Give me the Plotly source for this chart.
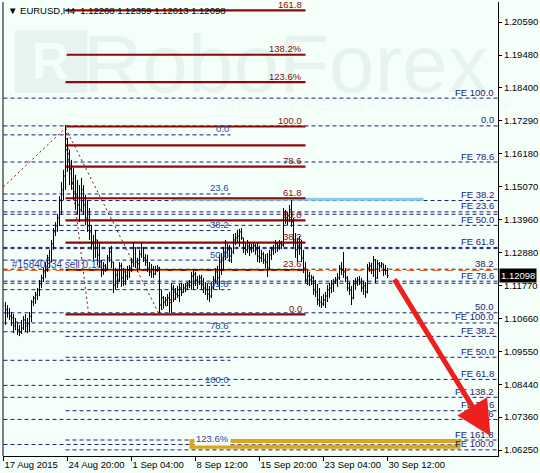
import plotly.graph_objects as go

# ---------------- data (EURUSD H4) ----------------
high = [1.1121, 1.1111, 1.1101, 1.1088, 1.1081, 1.1068, 1.1054, 1.1044, 1.1061, 1.1074,
        1.1081, 1.1068, 1.1088, 1.1128, 1.1141, 1.1155, 1.1168, 1.1195, 1.1212, 1.1235,
        1.1255, 1.1279, 1.1296, 1.1329, 1.1369, 1.1389, 1.1416, 1.1476, 1.1523, 1.1564,
        1.1714, 1.1671, 1.1631, 1.1597, 1.1570, 1.1547, 1.1530, 1.1513, 1.1537, 1.1513,
        1.1480, 1.1463, 1.1436, 1.1379, 1.1346, 1.1363, 1.1329, 1.1322, 1.1262, 1.1255,
        1.1249, 1.1279, 1.1302, 1.1309, 1.1255, 1.1235, 1.1229, 1.1255, 1.1252, 1.1235,
        1.1229, 1.1242, 1.1245, 1.1269, 1.1322, 1.1305, 1.1269, 1.1296, 1.1319, 1.1305,
        1.1282, 1.1279, 1.1255, 1.1249, 1.1242, 1.1242, 1.1245, 1.1239, 1.1162, 1.1141,
        1.1138, 1.1148, 1.1155, 1.1185, 1.1178, 1.1168, 1.1175, 1.1182, 1.1185, 1.1182,
        1.1185, 1.1188, 1.1195, 1.1222, 1.1229, 1.1222, 1.1208, 1.1212, 1.1212, 1.1202,
        1.1188, 1.1182, 1.1175, 1.1188, 1.1208, 1.1235, 1.1242, 1.1279, 1.1285, 1.1306,
        1.1329, 1.1316, 1.1312, 1.1302, 1.1349, 1.1352, 1.1363, 1.1366, 1.1369, 1.1336,
        1.1319, 1.1329, 1.1322, 1.1316, 1.1319, 1.1316, 1.1319, 1.1309, 1.1296, 1.1289,
        1.1282, 1.1285, 1.1296, 1.1306, 1.1312, 1.1329, 1.1322, 1.1329, 1.1326, 1.1436,
        1.1430, 1.1423, 1.1446, 1.1463, 1.1403, 1.1352, 1.1336, 1.1342, 1.1329, 1.1296,
        1.1255, 1.1229, 1.1222, 1.1212, 1.1208, 1.1195, 1.1182, 1.1168, 1.1141, 1.1148,
        1.1155, 1.1178, 1.1185, 1.1195, 1.1198, 1.1205, 1.1218, 1.1245, 1.1255, 1.1289,
        1.1235, 1.1208, 1.1188, 1.1175, 1.1195, 1.1202, 1.1205, 1.1208, 1.1202, 1.1192,
        1.1188, 1.1249, 1.1255, 1.1252, 1.1275, 1.1265, 1.1262, 1.1255, 1.1255, 1.1249,
        1.1245, 1.12359]
low = [1.1044, 1.1068, 1.1061, 1.1041, 1.1017, 1.1027, 1.1011, 1.1007, 1.1014, 1.1027,
       1.1021, 1.1017, 1.1021, 1.1054, 1.1108, 1.1115, 1.1128, 1.1141, 1.1168, 1.1188,
       1.1202, 1.1222, 1.1235, 1.1255, 1.1296, 1.1342, 1.1356, 1.1376, 1.1413, 1.1463,
       1.1497, 1.1557, 1.1513, 1.1497, 1.1463, 1.1430, 1.1413, 1.1389, 1.1425, 1.1413,
       1.1379, 1.1356, 1.1329, 1.1296, 1.1255, 1.1269, 1.1245, 1.1235, 1.1205, 1.1212,
       1.1222, 1.1229, 1.1255, 1.1235, 1.1151, 1.1162, 1.1168, 1.1188, 1.1172, 1.1175,
       1.1178, 1.1195, 1.1202, 1.1222, 1.1239, 1.1235, 1.1222, 1.1229, 1.1269, 1.1255,
       1.1242, 1.1222, 1.1208, 1.1202, 1.1202, 1.1212, 1.1222, 1.1085, 1.1095, 1.1101,
       1.1108, 1.1108, 1.1085, 1.1085, 1.1121, 1.1128, 1.1135, 1.1121, 1.1141, 1.1151,
       1.1155, 1.1162, 1.1168, 1.1162, 1.1162, 1.1175, 1.1165, 1.1178, 1.1162, 1.1151,
       1.1145, 1.1128, 1.1121, 1.1135, 1.1162, 1.1185, 1.1178, 1.1162, 1.1212, 1.1229,
       1.1262, 1.1269, 1.1255, 1.1252, 1.1282, 1.1312, 1.1319, 1.1306, 1.1329, 1.1285,
       1.1279, 1.1285, 1.1275, 1.1285, 1.1289, 1.1279, 1.1255, 1.1252, 1.1255, 1.1249,
       1.1235, 1.1205, 1.1230, 1.1262, 1.1279, 1.1285, 1.1289, 1.1296, 1.1299, 1.1306,
       1.1383, 1.1379, 1.1389, 1.1373, 1.1306, 1.1269, 1.1255, 1.1279, 1.1255, 1.1218,
       1.1185, 1.1178, 1.1175, 1.1178, 1.1145, 1.1138, 1.1111, 1.1105, 1.1101, 1.1108,
       1.1101, 1.1121, 1.1135, 1.1151, 1.1155, 1.1182, 1.1172, 1.1195, 1.1212, 1.1202,
       1.1188, 1.1158, 1.1145, 1.1111, 1.1130, 1.1162, 1.1175, 1.1178, 1.1155, 1.1145,
       1.1135, 1.1150, 1.1222, 1.1215, 1.1205, 1.1185, 1.1198, 1.1222, 1.1235, 1.1208,
       1.1212, 1.12013]
close = [1.1095, 1.1084, 1.1074, 1.1068, 1.1041, 1.1054, 1.1027, 1.1021, 1.1034, 1.1061,
         1.1041, 1.1048, 1.1074, 1.1121, 1.1135, 1.1145, 1.1162, 1.1182, 1.1202, 1.1222,
         1.1229, 1.1269, 1.1255, 1.1316, 1.1356, 1.1376, 1.1403, 1.1463, 1.1497, 1.1543,
         1.1631, 1.1597, 1.1564, 1.1523, 1.1490, 1.1476, 1.1446, 1.1430, 1.1497, 1.1446,
         1.1403, 1.1376, 1.1356, 1.1316, 1.1302, 1.1329, 1.1279, 1.1255, 1.1229, 1.1242,
         1.1235, 1.1269, 1.1289, 1.1255, 1.1178, 1.1212, 1.1195, 1.1242, 1.1202, 1.1222,
         1.1208, 1.1229, 1.1235, 1.1255, 1.1302, 1.1255, 1.1249, 1.1282, 1.1302, 1.1269,
         1.1255, 1.1235, 1.1222, 1.1229, 1.1215, 1.1229, 1.1235, 1.1111, 1.1135, 1.1121,
         1.1128, 1.1135, 1.1128, 1.1168, 1.1155, 1.1148, 1.1162, 1.1168, 1.1155, 1.1168,
         1.1175, 1.1178, 1.1188, 1.1208, 1.1215, 1.1195, 1.1188, 1.1202, 1.1178, 1.1168,
         1.1162, 1.1148, 1.1141, 1.1168, 1.1195, 1.1222, 1.1202, 1.1255, 1.1269, 1.1289,
         1.1302, 1.1296, 1.1275, 1.1289, 1.1329, 1.1336, 1.1342, 1.1356, 1.1336, 1.1302,
         1.1296, 1.1309, 1.1296, 1.1302, 1.1309, 1.1296, 1.1275, 1.1269, 1.1282, 1.1262,
         1.1255, 1.1235, 1.1279, 1.1296, 1.1302, 1.1316, 1.1309, 1.1316, 1.1312, 1.1413,
         1.1403, 1.1410, 1.1430, 1.1389, 1.1329, 1.1296, 1.1309, 1.1312, 1.1269, 1.1235,
         1.1195, 1.1208, 1.1195, 1.1202, 1.1162, 1.1155, 1.1128, 1.1121, 1.1115, 1.1128,
         1.1141, 1.1162, 1.1168, 1.1182, 1.1188, 1.1195, 1.1202, 1.1235, 1.1229, 1.1222,
         1.1202, 1.1168, 1.1162, 1.1135, 1.1182, 1.1188, 1.1195, 1.1188, 1.1168, 1.1175,
         1.1155, 1.1235, 1.1242, 1.1229, 1.1262, 1.1202, 1.1249, 1.1242, 1.1249, 1.1229,
         1.12268, 1.12098]
first_open = 1.1110
bars = list(range(len(close)))
opens = [first_open] + close[:-1]

x_tick_bars = [-1, 31, 63, 95, 127, 159, 191]
x_tick_text = ["17 Aug 2015", "24 Aug 20:00", "1 Sep 04:00", "8 Sep 12:00",
               "15 Sep 20:00", "23 Sep 04:00", "30 Sep 12:00"]
y_tick_vals = [1.2059, 1.1948, 1.1840, 1.1729, 1.1618, 1.1507, 1.1396,
               1.1288, 1.1177, 1.1066, 1.0955, 1.0844, 1.0736, 1.0625]
y_tick_text = ["%.5f" % v for v in y_tick_vals]

title_text = "\u25BC EURUSD,H4\u00a0\u00a01.12268 1.12359 1.12013 1.12098"
last_price = 1.12098

# Fibonacci retracement (dark red)
red_ratios = [0.0, 23.6, 38.2, 50.0, 61.8, 78.6, 90.0, 100.0, 123.6, 138.2, 161.8]
red_labels = ["0.0", "23.6", "38.2", "50.0", "61.8", "78.6", "", "100.0", "123.6%", "138.2%", "161.8"]
red_low, red_high = 1.1080, 1.1709
red_x0, red_x1 = 30, 150

# Fibonacci retracement (blue, left)
blue_ratios = [0.0, 23.6, 38.2, 50.0, 61.8, 78.6, 90.0, 100.0, 123.6]
blue_labels = ["0.0", "23.6", "38.2", "50.0", "61.8", "78.6", "", "100.0", "123.6%"]
blue_top, blue_bottom = 1.1681, 1.0842
blue_x0, blue_x1 = -1, 112.5

# Fibonacci expansion levels (blue dashed, labelled on the right)
fe_prices = [1.1804, 1.1711, 1.1590, 1.1461, 1.1423, 1.1415, 1.1378, 1.1304, 1.1300,
             1.1231, 1.1191, 1.1184, 1.1085, 1.1051, 1.1006, 1.0936, 1.0862, 1.0802,
             1.0757, 1.0728, 1.0659, 1.0626]
fe_starts = [-1, -1, -1, -1, -1, -1, -1, -1, -1,
             -1, -1, -1, -1, -1, 30, 30, 30, -1,
             30, -1, 30, 30]
fe_labels = ["FE 100.0", "0.0", "FE 78.6", "FE 38.2", "FE 23.6", "", "FE 50.0", "FE 61.8", "",
             "38.2", "FE 78.6", "", "50.0", "FE 100.0", "FE 38.2", "FE 50.0", "FE 61.8", "FE 138.2",
             "FE 78.6", "78.6", "FE 161.8", "FE 100.0"]
fe_x_end = 246.5

# helper tool lines
dotted_x0 = [-1, 30, 30, 76.5]
dotted_y0 = [1.1507, 1.1704, 1.1704, 1.1085]
dotted_x1 = [30, 41.5, 76.5, 97.5]
dotted_y1 = [1.1704, 1.1085, 1.1085, 1.1205]

skyblue_level, skyblue_x0, skyblue_x1 = 1.1465, 83.5, 209
order_price = 1.12268
order_label = "#15840334 sell 0.10"
target_box = (93, 226.5, 1.0636, 1.0656)
ext_line = (1.0643, 112.5, 226.5)
arrow_from = (194, 1.1202)
arrow_to = (242.5, 1.0672)

# ---------------- figure ----------------
BG = "#F5FFFA"
NAVY = "#1b1b78"
LBL_BLUE = "#2a3f9e"
DARKRED = "#8B0A0A"
FONT = "Liberation Sans, Arial, sans-serif"
FS = 9.5

fig = go.Figure()
fig.add_trace(go.Ohlc(
    x=bars, open=opens, high=high, low=low, close=close,
    increasing=dict(line=dict(color="black", width=1)),
    decreasing=dict(line=dict(color="black", width=1)),
    tickwidth=0.5, hoverinfo="skip", showlegend=False))

shapes = []
ann = []

# watermark logo block
shapes.append(dict(type="rect", xref="paper", yref="paper", x0=0.024, x1=0.170, y0=0.800, y1=0.938,
                   fillcolor="rgba(0,40,30,0.055)", line=dict(width=0), layer="below"))

# blue dashed FE lines
for p, s, lab in zip(fe_prices, fe_starts, fe_labels):
    shapes.append(dict(type="line", xref="x", yref="y", x0=s, x1=fe_x_end, y0=p, y1=p,
                       line=dict(color=NAVY, width=1, dash="4px,3px"), layer="below"))
    if lab:
        ann.append(dict(x=245, y=p, xref="x", yref="y", text=lab, showarrow=False,
                        xanchor="right", yanchor="bottom", yshift=-1.5,
                        font=dict(family=FONT, size=FS, color=NAVY)))
shapes.append(dict(type="line", xref="x", yref="y", x0=ext_line[1], x1=ext_line[2],
                   y0=ext_line[0], y1=ext_line[0],
                   line=dict(color=NAVY, width=1, dash="4px,3px"), layer="below"))

# blue retracement
for r, lab in zip(blue_ratios, blue_labels):
    p = blue_top - r / 100.0 * (blue_top - blue_bottom)
    shapes.append(dict(type="line", xref="x", yref="y", x0=blue_x0, x1=blue_x1, y0=p, y1=p,
                       line=dict(color=NAVY, width=1, dash="4px,3px"), layer="below"))
    if lab:
        ann.append(dict(x=blue_x1, y=p, xref="x", yref="y", text=lab, showarrow=False,
                        xanchor="right", yanchor="bottom", yshift=-1.5,
                        bgcolor=BG if lab == "123.6%" else None,
                        font=dict(family=FONT, size=FS, color=LBL_BLUE)))

# light-blue level
shapes.append(dict(type="line", xref="x", yref="y", x0=skyblue_x0, x1=skyblue_x1,
                   y0=skyblue_level, y1=skyblue_level,
                   line=dict(color="#87CEEB", width=3), layer="below"))

# red retracement
for r, lab in zip(red_ratios, red_labels):
    p = red_low + r / 100.0 * (red_high - red_low)
    shapes.append(dict(type="line", xref="x", yref="y", x0=red_x0, x1=red_x1, y0=p, y1=p,
                       line=dict(color=DARKRED, width=2.2), layer="below"))
    if lab:
        ann.append(dict(x=red_x1 - 1, y=p, xref="x", yref="y", text=lab, showarrow=False,
                        xanchor="right", yanchor="bottom", yshift=-1.5,
                        font=dict(family=FONT, size=FS, color=DARKRED)))

# dotted tool lines
for a, b, c, d in zip(dotted_x0, dotted_y0, dotted_x1, dotted_y1):
    shapes.append(dict(type="line", xref="x", yref="y", x0=a, y0=b, x1=c, y1=d,
                       line=dict(color=DARKRED, width=1, dash="2px,3px"), layer="below"))

# order line
shapes.append(dict(type="line", xref="x", yref="y", x0=-1, x1=246.5, y0=order_price, y1=order_price,
                   line=dict(color="#F0641E", width=1, dash="8px,5px"), layer="below"))
ann.append(dict(x=2, y=order_price, xref="x", yref="y", text=order_label, showarrow=False,
                xanchor="left", yanchor="bottom", yshift=-1.5,
                font=dict(family=FONT, size=FS + 0.5, color="#2a3f9e")))

# gold target box
shapes.append(dict(type="rect", xref="x", yref="y", x0=target_box[0], x1=target_box[1],
                   y0=target_box[2], y1=target_box[3],
                   line=dict(color="#DAA520", width=4), layer="below"))

# left border
shapes.append(dict(type="line", xref="paper", yref="paper", x0=0, x1=0, y0=0, y1=1,
                   line=dict(color="black", width=1)))

# watermark text
ann.append(dict(xref="paper", yref="paper", x=0.572, y=0.8645, text="RoboForex", showarrow=False,
                xanchor="center", yanchor="middle",
                font=dict(family=FONT, size=82, color="rgba(0,40,30,0.055)")))
ann.append(dict(xref="paper", yref="paper", x=0.097, y=0.869, text="<b>R</b>", showarrow=False,
                xanchor="center", yanchor="middle",
                font=dict(family=FONT, size=52, color=BG)))
ann.append(dict(xref="paper", yref="paper", x=0.731, y=0.775,
                text="ИСПОЛЬЗУЙ РОБОТОВ – ПОЛУЧАЙ ПРИБЫЛЬ", showarrow=False,
                xanchor="center", yanchor="middle",
                font=dict(family=FONT, size=13, color="rgba(0,40,30,0.035)")))

# title
ann.append(dict(xref="paper", yref="paper", x=0.006, y=0.982, text=title_text, showarrow=False,
                xanchor="left", yanchor="middle",
                font=dict(family=FONT, size=FS, color="black")))

# current price box
ann.append(dict(xref="paper", yref="y", x=1.0, y=last_price, text="%.5f" % last_price,
                showarrow=False, xanchor="left", yanchor="middle", xshift=1,
                bgcolor="black", borderpad=1,
                font=dict(family=FONT, size=FS, color="white")))

# forecast arrow
ann.append(dict(x=arrow_to[0], y=arrow_to[1], xref="x", yref="y",
                ax=arrow_from[0], ay=arrow_from[1], axref="x", ayref="y",
                text="", showarrow=True, arrowhead=2, arrowsize=1.4, arrowwidth=5,
                arrowcolor="#EE1F1F", standoff=0, startstandoff=0))

fig.update_layout(
    width=540, height=473,
    margin=dict(l=3, r=42, t=2, b=17, autoexpand=False),
    paper_bgcolor=BG, plot_bgcolor=BG,
    showlegend=False, hovermode=False,
    shapes=shapes, annotations=ann,
    font=dict(family=FONT, size=FS, color="black"),
)
fig.update_xaxes(range=[-1.25, 246.25], showgrid=False, zeroline=False, automargin=False,
                 showline=True, linecolor="black", linewidth=1,
                 ticks="outside", ticklen=4, tickcolor="black", tickangle=0,
                 tickvals=x_tick_bars, ticktext=x_tick_text,
                 ticklabelposition="outside right",
                 tickfont=dict(family=FONT, size=FS, color="black"),
                 rangeslider=dict(visible=False))
fig.update_yaxes(range=[1.06054, 1.2126], side="right", showgrid=False, zeroline=False,
                 automargin=False,
                 showline=True, linecolor="black", linewidth=1,
                 ticks="outside", ticklen=3, tickcolor="black",
                 tickvals=y_tick_vals, ticktext=y_tick_text,
                 tickfont=dict(family=FONT, size=FS, color="black"))

fig.write_html("out.html", config={"displayModeBar": False},
               post_script="document.body.style.margin='0';document.body.style.overflow='hidden';")
